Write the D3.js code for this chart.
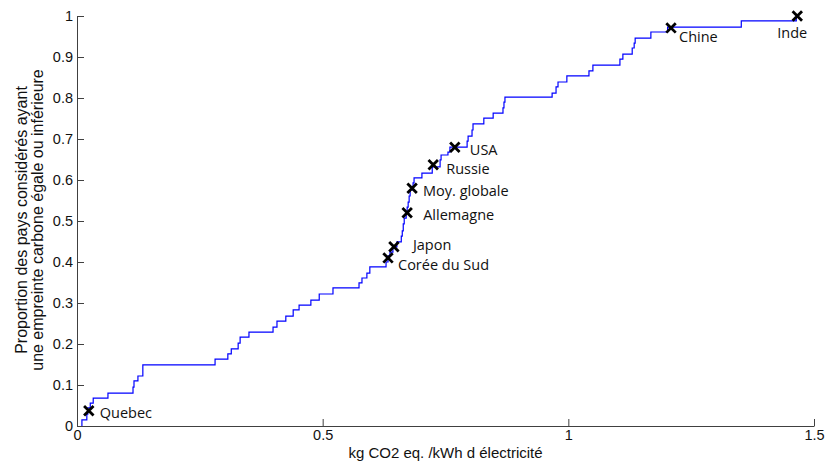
<!DOCTYPE html>
<html>
<head>
<meta charset="utf-8">
<script src="https://cdn.jsdelivr.net/npm/d3@7"></script>
<style>
  body { margin: 0; background: #fff; }
  svg { display: block; }
</style>
</head>
<body>
<svg id="chart"></svg>
<script>
// step curve: x where the curve jumps, level reached after the jump
const stepX = [0.010, 0.010, 0.020, 0.022, 0.027, 0.033, 0.063, 0.114, 0.116, 0.124,
  0.134, 0.281, 0.307, 0.314, 0.328, 0.332, 0.350, 0.399, 0.407, 0.425,
  0.440, 0.452, 0.476, 0.493, 0.521, 0.574, 0.580, 0.590, 0.596, 0.629,
  0.633, 0.637, 0.643, 0.651, 0.660, 0.662, 0.664, 0.666, 0.670, 0.672,
  0.674, 0.676, 0.678, 0.684, 0.686, 0.702, 0.723, 0.739, 0.741, 0.755,
  0.759, 0.794, 0.796, 0.804, 0.806, 0.828, 0.847, 0.867, 0.869, 0.871,
  0.967, 0.975, 0.979, 0.997, 1.042, 1.050, 1.105, 1.111, 1.130, 1.134,
  1.136, 1.168, 1.202, 1.352, 1.464];
const stepY = [0.000, 0.015, 0.029, 0.044, 0.056, 0.068, 0.080, 0.095, 0.110, 0.122,
  0.149, 0.163, 0.176, 0.188, 0.202, 0.217, 0.229, 0.241, 0.256, 0.268,
  0.283, 0.295, 0.307, 0.322, 0.337, 0.349, 0.361, 0.373, 0.388, 0.400,
  0.415, 0.424, 0.437, 0.449, 0.463, 0.476, 0.493, 0.507, 0.522, 0.534,
  0.546, 0.561, 0.576, 0.593, 0.605, 0.617, 0.632, 0.649, 0.661, 0.668,
  0.680, 0.695, 0.707, 0.722, 0.737, 0.751, 0.763, 0.776, 0.790, 0.802,
  0.812, 0.827, 0.839, 0.854, 0.866, 0.880, 0.895, 0.907, 0.922, 0.934,
  0.946, 0.961, 0.973, 0.988, 1.000];

// highlighted countries
const countries = ["Quebec", "Corée du Sud", "Japon", "Allemagne", "Moy. globale", "Russie", "USA", "Chine", "Inde"];
const countryX = [0.024, 0.633, 0.645, 0.672, 0.682, 0.725, 0.769, 1.209, 1.466];
const countryY = [0.037, 0.410, 0.437, 0.520, 0.580, 0.637, 0.680, 0.971, 1.000];

const xTicks = [0, 0.5, 1, 1.5];
const yTicks = [0, 0.1, 0.2, 0.3, 0.4, 0.5, 0.6, 0.7, 0.8, 0.9, 1];

// label offsets (px) from each marker
const labelOffset = [[11, 7], [10, 12], [19, 3], [16, 7], [11, 8], [13, 9], [15, 8], [8, 14], [-20, 22]];

const width = 825, height = 463;
const margin = { top: 16, right: 11, bottom: 37, left: 77 };
const innerW = width - margin.left - margin.right;
const innerH = height - margin.top - margin.bottom;

const svg = d3.select("#chart")
  .attr("width", width)
  .attr("height", height);

const g = svg.append("g")
  .attr("transform", `translate(${margin.left},${margin.top})`);

const xScale = d3.scaleLinear().domain([0, 1.5]).range([0, innerW]);
const yScale = d3.scaleLinear().domain([0, 1]).range([innerH, 0]);

const fmt = d => String(d);

const xAxis = d3.axisBottom(xScale)
  .tickValues(xTicks)
  .tickFormat(fmt)
  .tickSizeInner(-7)
  .tickSizeOuter(0)
  .tickPadding(4);
const yAxis = d3.axisLeft(yScale)
  .tickValues(yTicks)
  .tickFormat(fmt)
  .tickSizeInner(-7)
  .tickSizeOuter(0)
  .tickPadding(4);

const axisFont = "'Liberation Sans', Arial, Helvetica, sans-serif";

g.append("g")
  .attr("class", "x axis")
  .attr("transform", `translate(0,${innerH})`)
  .call(xAxis);
g.append("g")
  .attr("class", "y axis")
  .call(yAxis);

g.selectAll(".axis path.domain").attr("stroke", "#404040");
g.selectAll(".axis line").attr("stroke", "#404040");
g.selectAll(".axis text")
  .style("font-family", axisFont)
  .style("font-size", "14.5px")
  .attr("fill", "#111");

// step curve
const pts = stepX.map((x, i) => [x, stepY[i]]);
const line = d3.line()
  .x(d => xScale(d[0]))
  .y(d => yScale(d[1]))
  .curve(d3.curveStepAfter);

g.append("path")
  .datum(pts)
  .attr("d", line)
  .attr("fill", "none")
  .attr("stroke", "#0000ff")
  .attr("stroke-width", 1.2);

// markers
const cross = d3.symbol().type(d3.symbolTimes).size(60);
g.selectAll(".marker")
  .data(countries)
  .enter()
  .append("path")
  .attr("class", "marker")
  .attr("d", cross)
  .attr("transform", (d, i) => `translate(${xScale(countryX[i])},${yScale(countryY[i])})`)
  .attr("fill", "none")
  .attr("stroke", "#000")
  .attr("stroke-width", 2.8);

g.selectAll(".label")
  .data(countries)
  .enter()
  .append("text")
  .attr("class", "label")
  .attr("x", (d, i) => xScale(countryX[i]) + labelOffset[i][0])
  .attr("y", (d, i) => yScale(countryY[i]) + labelOffset[i][1])
  .style("font-family", "'Open Sans', Lato, sans-serif")
  .style("font-size", "14.5px")
  .attr("fill", "#111")
  .text(d => d);

// axis titles
svg.append("text")
  .attr("x", margin.left + innerW / 2)
  .attr("y", 458)
  .attr("text-anchor", "middle")
  .style("font-family", axisFont)
  .style("font-size", "15px")
  .attr("fill", "#111")
  .text("kg CO2 eq. /kWh d électricité");

const yTitle = svg.append("text")
  .attr("transform", `translate(0,220) rotate(-90)`)
  .attr("text-anchor", "middle")
  .style("font-family", axisFont)
  .style("font-size", "16px")
  .attr("fill", "#111");
yTitle.append("tspan").attr("x", 0).attr("y", 27).text("Proportion des pays considérés ayant");
yTitle.append("tspan").attr("x", 0).attr("y", 43).text("une empreinte carbone égale ou inférieure");
</script>
</body>
</html>
